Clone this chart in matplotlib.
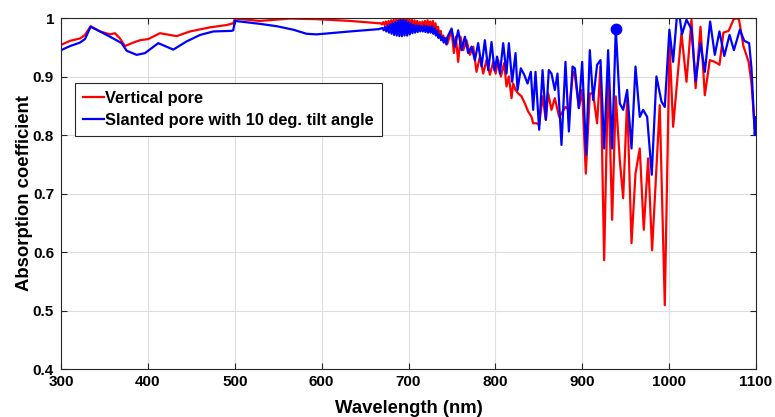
import matplotlib
matplotlib.use("Agg")
import matplotlib.pyplot as plt

plt.rcParams['font.family'] = ['Liberation Sans', 'DejaVu Sans']
plt.rcParams['font.weight'] = 'bold'

# ---------------- data ----------------
red_wl = [300, 310.4, 321.9, 327.6, 334.1, 344.9, 356.4, 362.1, 367.9, 373.6,
          383.2, 390.9, 400.5, 413.9, 433.1, 448.5, 471.5, 490.7, 498.3, 500.2,
          529, 563.5, 594.2, 632.6, 666,
          668, 669.5, 671, 672.5, 674, 675.5, 677, 678.5, 680, 681.5,
          683, 684.5, 686, 687.5, 689, 690.5, 692, 693.5, 695, 696.5,
          698, 699.5, 701, 702.5, 704, 705.5, 707, 708.5, 710, 711.5,
          713, 714.5, 716, 717.5, 719, 720.5, 722, 723.5, 725, 726.5,
          728, 729.5, 731, 732.5, 734, 735.5, 737, 738.5, 740, 741.5,
          743, 744.5, 746,
          749.6, 752.2, 754.5, 757.2, 759.9, 763.0, 766.8, 770.7, 774.5, 778.3,
          782.2, 786.0, 789.8, 793.7, 797.5, 800.3, 803.2, 806.3, 810.1, 812.8,
          815.5, 818.6, 820.5, 823.2, 826.3, 830.1, 833.9, 837.8, 841.6, 843.5,
          847.4, 850.4, 854.3, 858.1, 860.8, 864.6, 868.4, 873.4, 876.1, 880.7,
          884.6, 889.5, 891.5, 896.1, 899.9, 904.1, 908.7, 912.5, 917.1, 921.0,
          925.2, 929.8, 934.4, 938.6, 943.2, 947.1, 951.7, 956.7, 961.3, 966.2,
          970.8, 975.8, 980.4, 989.2, 995.0, 1000.5, 1004.6, 1014.2, 1020, 1025.7,
          1030.5, 1036.1, 1041.1, 1046.8, 1052.6, 1058, 1062.5, 1068.5, 1074, 1077.5,
          1080.5, 1085.5, 1091.5, 1094.8, 1098.6, 1100]
red_abs = [0.954, 0.961, 0.965, 0.971, 0.986, 0.977, 0.972, 0.974, 0.965, 0.952,
           0.958, 0.962, 0.964, 0.974, 0.969, 0.977, 0.984, 0.988, 0.991, 0.999,
           0.995, 0.999, 0.998, 0.995, 0.991,
           0.991, 0.989, 0.993, 0.988, 0.994, 0.987, 0.995, 0.985, 0.996, 0.984,
           0.997, 0.982, 0.998, 0.980, 0.999, 0.978, 1.000, 0.976, 1.000, 0.975,
           1.000, 0.975, 0.999, 0.977, 0.997, 0.979, 0.996, 0.981, 0.995, 0.982,
           0.993, 0.982, 0.994, 0.981, 0.995, 0.982, 0.996, 0.983, 0.994, 0.980,
           0.995, 0.979, 0.991, 0.977, 0.985, 0.972, 0.978, 0.965, 0.970, 0.960,
           0.966, 0.955, 0.962,
           0.979, 0.940, 0.968, 0.925, 0.968, 0.945, 0.962, 0.937, 0.951, 0.908,
           0.934, 0.905, 0.928, 0.903, 0.925, 0.905, 0.928, 0.900, 0.923, 0.883,
           0.900, 0.863, 0.888, 0.877, 0.871, 0.866, 0.854, 0.840, 0.831, 0.820,
           0.820, 0.817, 0.866, 0.826, 0.871, 0.843, 0.863, 0.831, 0.837, 0.848,
           0.843, 0.908, 0.903, 0.846, 0.877, 0.734, 0.871, 0.871, 0.820, 0.917,
           0.586, 0.911, 0.655, 0.866, 0.757, 0.692, 0.860, 0.615, 0.734, 0.777,
           0.638, 0.760, 0.603, 0.851, 0.509, 0.957, 0.814, 0.974, 0.891, 0.997,
           0.880, 0.985, 0.868, 0.928, 0.925, 0.920, 0.975, 0.978, 0.997, 1.000,
           0.997, 0.952, 0.925, 0.888, 0.810, 0.830]

blue_wl = [300, 310.4, 321.9, 327.6, 334.1, 344.9, 360.2, 369.8, 375.6, 387.1,
           396.7, 412, 429.3, 444.6, 460, 475.3, 496.4, 498.3, 500.2, 529,
           548.2, 567.4, 582.7, 594.2, 632.6, 666,
           670, 671.5, 673, 674.5, 676, 677.5, 679, 680.5, 682, 683.5,
           685, 686.5, 688, 689.5, 691, 692.5, 694, 695.5, 697, 698.5,
           700, 701.5, 703, 704.5, 706, 707.5, 709, 710.5, 712, 713.5,
           715, 716.5, 718, 719.5, 721, 722.5, 724, 725.5, 727, 728.5,
           730, 731.5, 733, 734.5, 736, 737.5, 739, 740.5, 742, 743.5, 745,
           749.6, 753.4, 757.2, 761.1, 764.9, 768.7, 772.6, 776.4, 780.2, 784.1,
           787.9, 791.8, 795.6, 799.0, 802.0, 805.2, 809.0, 812.8, 815.5, 819.3,
           823.2, 825.5, 829.3, 833.2, 837.0, 840.8, 843.5, 846.2, 850.4, 854.3,
           858.1, 861.5, 864.6, 868.4, 871.5, 876.1, 880.7, 884.6, 888.8, 891.5,
           896.1, 899.9, 904.5, 908.7, 912.5, 917.1, 921.0, 925.2, 929.8, 934.4,
           938.6, 943.2, 947.1, 951.7, 956.7, 961.3, 966.2, 970.1, 974.7, 980.0,
           985.4, 991.2, 995.0, 1000.3, 1004.6, 1009, 1012, 1014.8, 1020, 1025.7,
           1030.5, 1036.1, 1041.1, 1047.2, 1052.6, 1057.9, 1063.5, 1069.5, 1074.6, 1081.4,
           1086.5, 1092.1, 1094.8, 1098.6, 1100]
blue_abs = [0.945, 0.952, 0.958, 0.964, 0.985, 0.977, 0.965, 0.957, 0.944, 0.937,
            0.940, 0.957, 0.946, 0.960, 0.971, 0.977, 0.978, 0.979, 0.995, 0.990,
            0.986, 0.980, 0.973, 0.972, 0.977, 0.981,
            0.983, 0.979, 0.985, 0.977, 0.987, 0.975, 0.989, 0.973, 0.991, 0.971,
            0.993, 0.970, 0.995, 0.969, 0.996, 0.969, 0.996, 0.970, 0.995, 0.970,
            0.993, 0.972, 0.990, 0.974, 0.988, 0.975, 0.987, 0.976, 0.987, 0.977,
            0.986, 0.977, 0.987, 0.976, 0.986, 0.975, 0.985, 0.975, 0.986, 0.973,
            0.982, 0.970, 0.978, 0.966, 0.972, 0.962, 0.968, 0.958, 0.965, 0.955, 0.968,
            0.982, 0.951, 0.979, 0.945, 0.968, 0.940, 0.951, 0.928, 0.957, 0.917,
            0.962, 0.911, 0.959, 0.910, 0.934, 0.905, 0.957, 0.905, 0.957, 0.891,
            0.940, 0.877, 0.914, 0.903, 0.888, 0.908, 0.843, 0.908, 0.809, 0.911,
            0.826, 0.911, 0.905, 0.877, 0.905, 0.783, 0.925, 0.806, 0.917, 0.914,
            0.846, 0.925, 0.766, 0.945, 0.860, 0.920, 0.928, 0.777, 0.945, 0.777,
            0.982, 0.854, 0.843, 0.877, 0.777, 0.917, 0.831, 0.843, 0.831, 0.732,
            0.900, 0.857, 0.848, 0.980, 0.925, 1.004, 1.003, 0.972, 0.997, 0.981,
            0.892, 0.957, 0.908, 0.994, 0.937, 0.977, 0.935, 0.971, 0.945, 0.980,
            0.961, 0.957, 0.914, 0.800, 0.830]

highlight_wl = 938.6  # marked point on the slanted-pore curve

x_ticks = [300, 400, 500, 600, 700, 800, 900, 1000, 1100]
y_ticks = [0.4, 0.5, 0.6, 0.7, 0.8, 0.9, 1.0]
y_tick_labels = ['0.4', '0.5', '0.6', '0.7', '0.8', '0.9', '1']
series_labels = ['Vertical pore', 'Slanted pore with 10 deg. tilt angle']

# ---------------- figure ----------------
W, H = 775, 417
fig = plt.figure(figsize=(W / 100, H / 100), dpi=100)
ax_l, ax_r, ax_t, ax_b = 61, 756, 18, 369
ax = fig.add_axes([ax_l / W, 1 - ax_b / H, (ax_r - ax_l) / W, (ax_b - ax_t) / H])

ax.plot(red_wl, red_abs, color=(1, 0, 0), lw=1.6, label=series_labels[0])
ax.plot(blue_wl, blue_abs, color=(0, 0, 1), lw=1.6, label=series_labels[1])
i = blue_wl.index(highlight_wl)
ax.plot([blue_wl[i]], [blue_abs[i]], 'o', color=(0, 0, 1), ms=7.5)

ax.set_xlim(300, 1100)
ax.set_ylim(0.4, 1.0)
ax.set_xticks(x_ticks)
ax.set_yticks(y_ticks)
ax.set_yticklabels(y_tick_labels)

frame = '#262626'
ax.grid(True, color='#dedede', lw=0.8)
ax.set_axisbelow(True)
for s in ax.spines.values():
    s.set_color(frame)
    s.set_linewidth(0.8)
ax.tick_params(direction='in', top=True, right=True, length=4, width=0.8,
               color=frame, labelsize=11, labelcolor='black')
ax.tick_params(axis='y', pad=5)
ax.tick_params(axis='x', pad=4)
for lab in ax.get_xticklabels() + ax.get_yticklabels():
    lab.set_fontweight('bold')

ax.set_xlabel('Wavelength (nm)', fontsize=13.3, fontweight='bold', labelpad=8)
ax.set_ylabel('Absorption coefficient', fontsize=13.3, fontweight='bold', labelpad=0)

leg = ax.legend(loc='upper left', bbox_to_anchor=(0.020, 0.815), borderaxespad=0,
                handlelength=1.25, handletextpad=0.1, borderpad=0.5,
                labelspacing=0.4, fancybox=False, framealpha=1,
                prop={'weight': 'bold', 'size': 11.8})
leg.get_frame().set_edgecolor(frame)
leg.get_frame().set_linewidth(0.8)

fig.savefig('out.png', dpi=100)
